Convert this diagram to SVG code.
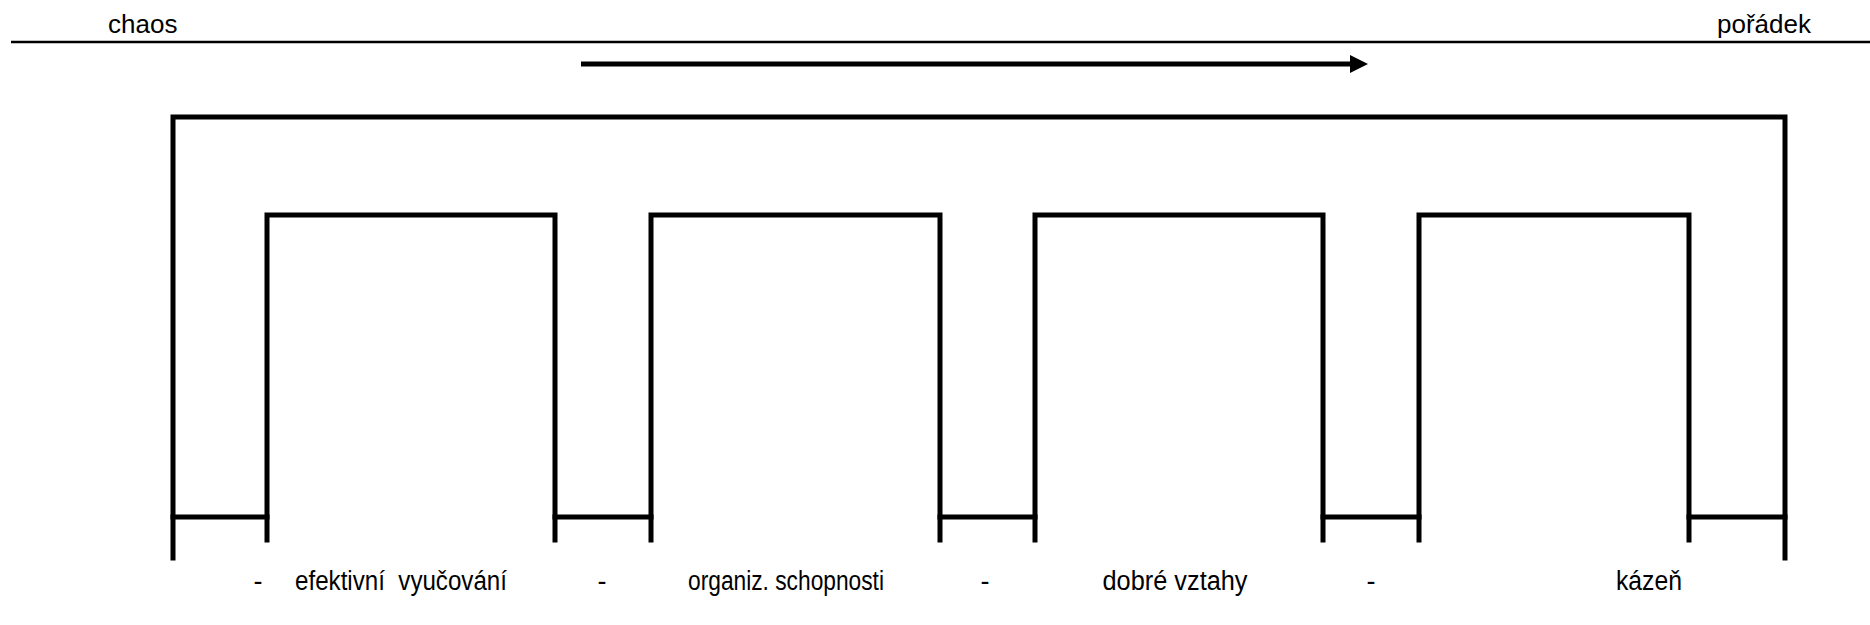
<svg xmlns="http://www.w3.org/2000/svg" width="1870" height="625" viewBox="0 0 1870 625">
  <style>
    .t { font-family: "Liberation Sans", Arial, sans-serif; font-size: 26px; fill: #000; }
    .lb { font-family: "Liberation Sans", Arial, sans-serif; font-size: 27px; fill: #000; text-anchor: middle; }
    .ln { fill: none; stroke: #000; stroke-width: 5; stroke-linecap: square; stroke-linejoin: miter; }
    .thin { fill: none; stroke: #000; stroke-width: 2.5; }
  </style>
  <defs>
    <marker id="ah" markerUnits="userSpaceOnUse" markerWidth="20" markerHeight="20" refX="0" refY="10" orient="auto">
      <polygon points="0,1 18,10 0,19" fill="#000"/>
    </marker>
  </defs>
  <rect width="1870" height="625" fill="#fff"/>

  <g id="header">
    <text class="t" x="108" y="33">chaos</text>
    <text class="t" x="1717" y="33">pořádek</text>
    <line class="thin" x1="11" y1="42" x2="1870" y2="42"/>
  </g>

  <g id="frame">
    <path class="ln" d="M173,558 V117 H1785 V558"/>
  </g>

  <g id="box1">
    <path class="ln" d="M267,540 V215 H555 V540"/>
  </g>
  <g id="box2">
    <path class="ln" d="M651,540 V215 H940 V540"/>
  </g>
  <g id="box3">
    <path class="ln" d="M1035,540 V215 H1323 V540"/>
  </g>
  <g id="box4">
    <path class="ln" d="M1419,540 V215 H1689 V540"/>
  </g>

  <g id="connectors">
    <line x1="581" y1="64" x2="1350" y2="64" stroke="#000" stroke-width="5" marker-end="url(#ah)"/>
    <line class="ln" x1="173" y1="517" x2="267" y2="517"/>
    <line class="ln" x1="555" y1="517" x2="651" y2="517"/>
    <line class="ln" x1="940" y1="517" x2="1035" y2="517"/>
    <line class="ln" x1="1323" y1="517" x2="1419" y2="517"/>
    <line class="ln" x1="1689" y1="517" x2="1785" y2="517"/>
  </g>

  <g id="labels">
    <text class="lb" x="258" y="590">-</text>
    <text class="lb" x="401" y="590" xml:space="preserve" textLength="212" lengthAdjust="spacingAndGlyphs">efektivní  vyučování</text>
    <text class="lb" x="602" y="590">-</text>
    <text class="lb" x="786" y="590" textLength="196" lengthAdjust="spacingAndGlyphs">organiz. schopnosti</text>
    <text class="lb" x="985" y="590">-</text>
    <text class="lb" x="1175" y="590" textLength="145" lengthAdjust="spacingAndGlyphs">dobré vztahy</text>
    <text class="lb" x="1371" y="590">-</text>
    <text class="lb" x="1649" y="590" textLength="66" lengthAdjust="spacingAndGlyphs">kázeň</text>
  </g>
</svg>
